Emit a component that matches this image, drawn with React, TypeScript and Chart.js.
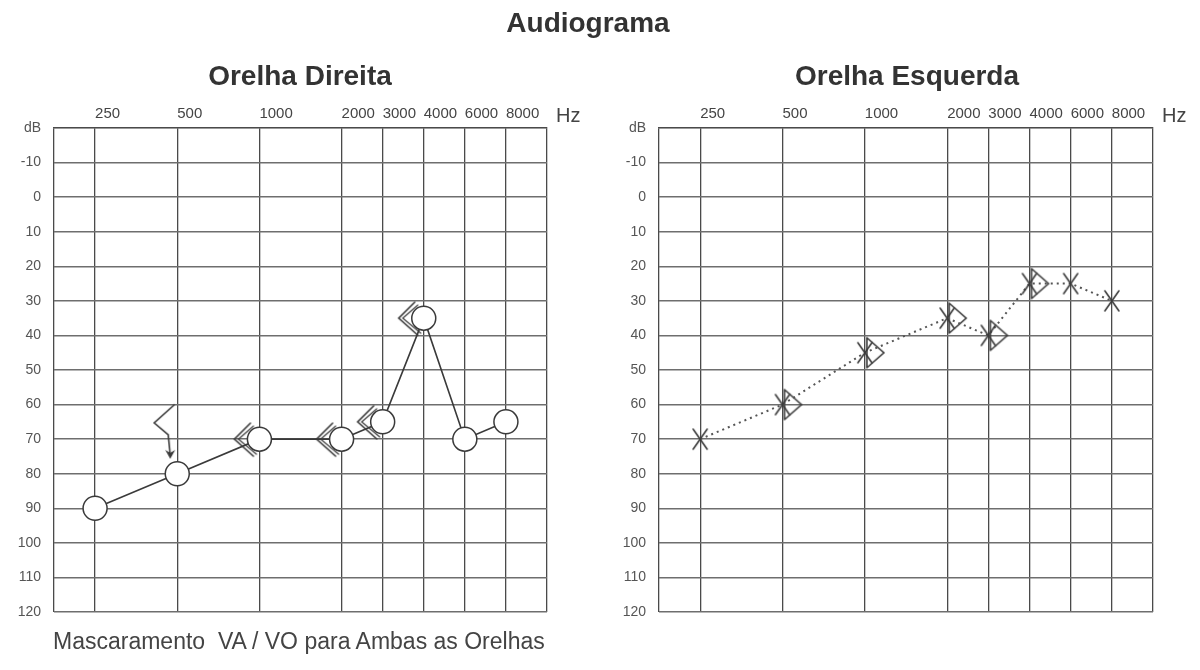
import React, { useEffect, useRef } from 'react';
import { Chart, registerables } from 'chart.js';

Chart.register(...registerables);

// ---------- data ----------
const freqLabels = ['250', '500', '1000', '2000', '3000', '4000', '6000', '8000'];
// audiogram half-octave grid position of each frequency (axis layout: 0..12)
const freqAxisPos = [1, 3, 5, 7, 8, 9, 10, 11];

// Orelha Direita (right ear)
const rightAirFreqs = ['250', '500', '1000', '2000', '3000', '4000', '6000', '8000'];
const rightAirDb = [90, 80, 70, 70, 65, 35, 70, 65];
const rightBoneFreqs = ['1000', '2000', '3000', '4000'];
const rightBoneDb = [70, 70, 65, 35];
const rightNoRespFreqs = ['500'];
const rightNoRespDb = [65];

// Orelha Esquerda (left ear)
const leftAirFreqs = ['250', '500', '1000', '2000', '3000', '4000', '6000', '8000'];
const leftAirDb = [70, 60, 45, 35, 40, 25, 25, 30];
const leftBoneFreqs = ['500', '1000', '2000', '3000', '4000'];
const leftBoneDb = [60, 45, 35, 40, 25];

const dbMin = -20;
const dbMax = 120;
const dbStep = 10;

const FONT = '"Liberation Sans", Arial, sans-serif';
const INK = '#3a3a3a';

const posOf = (f: string) => freqAxisPos[freqLabels.indexOf(f)];
const toPoints = (freqs: string[], vals: number[]) =>
  freqs.map((f, i) => ({ x: posOf(f), y: vals[i] }));

function makeSymbol(w: number, h: number, draw: (c: CanvasRenderingContext2D, cx: number, cy: number) => void) {
  const cv = document.createElement('canvas');
  cv.width = w;
  cv.height = h;
  const c = cv.getContext('2d')!;
  c.strokeStyle = INK;
  c.fillStyle = INK;
  c.lineWidth = 1.6;
  c.lineCap = 'round';
  c.lineJoin = 'miter';
  draw(c, w / 2, h / 2);
  return cv;
}

function symbols() {
  const boneRight = makeSymbol(64, 44, (c, cx, cy) => {
    c.beginPath();
    c.moveTo(cx - 9, cy - 16);
    c.lineTo(cx - 25, cy);
    c.lineTo(cx - 6, cy + 17);
    c.stroke();
    c.lineWidth = 1.2;
    c.beginPath();
    c.moveTo(cx - 6, cy - 13);
    c.lineTo(cx - 21, cy);
    c.lineTo(cx - 3, cy + 15);
    c.stroke();
  });
  const noResp = makeSymbol(64, 96, (c, cx, cy) => {
    c.beginPath();
    c.moveTo(cx - 3, cy - 17);
    c.lineTo(cx - 23, cy + 1);
    c.lineTo(cx - 9, cy + 13);
    c.lineTo(cx - 7, cy + 33);
    c.stroke();
    c.beginPath();
    c.moveTo(cx - 7, cy + 37);
    c.lineTo(cx - 12, cy + 28);
    c.lineTo(cx - 7, cy + 31);
    c.lineTo(cx - 2, cy + 28);
    c.closePath();
    c.fill();
  });
  const cross = makeSymbol(24, 28, (c, cx, cy) => {
    c.beginPath();
    c.moveTo(cx - 7, cy - 10);
    c.lineTo(cx + 7, cy + 10);
    c.moveTo(cx + 7, cy - 10);
    c.lineTo(cx - 7, cy + 10);
    c.stroke();
  });
  const boneLeft = makeSymbol(60, 40, (c, cx, cy) => {
    c.beginPath();
    c.moveTo(cx + 2, cy - 15);
    c.lineTo(cx + 2, cy + 15);
    c.moveTo(cx + 2, cy - 15);
    c.lineTo(cx + 19, cy);
    c.lineTo(cx + 2, cy + 15);
    c.stroke();
  });
  return { boneRight, noResp, cross, boneLeft };
}

const hzPlugin = {
  id: 'hzLabel',
  afterDraw(chart: any) {
    const { ctx, chartArea } = chart;
    ctx.save();
    ctx.font = `20px ${FONT}`;
    ctx.fillStyle = '#444';
    ctx.textAlign = 'left';
    ctx.textBaseline = 'alphabetic';
    ctx.fillText('Hz', chartArea.right + 9, chartArea.top - 6);
    ctx.restore();
  },
};

function Audiogram({ side }: { side: 'right' | 'left' }) {
  const ref = useRef<HTMLCanvasElement>(null);
  useEffect(() => {
    const s = symbols();
    const isRight = side === 'right';
    const datasets: any[] = isRight
      ? [
          {
            data: toPoints(rightAirFreqs, rightAirDb),
            borderColor: INK,
            borderWidth: 1.6,
            pointStyle: 'circle',
            pointRadius: 12,
            pointBackgroundColor: '#fff',
            pointBorderColor: INK,
            pointBorderWidth: 1.5,
            showLine: true,
            tension: 0,
          },
          {
            data: toPoints(rightBoneFreqs, rightBoneDb),
            showLine: false,
            pointStyle: s.boneRight,
            pointRadius: 10,
          },
          {
            data: toPoints(rightNoRespFreqs, rightNoRespDb),
            showLine: false,
            pointStyle: s.noResp,
            pointRadius: 10,
          },
        ]
      : [
          {
            data: toPoints(leftAirFreqs, leftAirDb),
            borderColor: '#555',
            borderWidth: 2,
            borderDash: [2, 4],
            pointStyle: s.cross,
            pointRadius: 10,
            showLine: true,
            tension: 0,
          },
          {
            data: toPoints(leftBoneFreqs, leftBoneDb),
            showLine: false,
            pointStyle: s.boneLeft,
            pointRadius: 10,
          },
        ];

    const chart = new Chart(ref.current!, {
      type: 'scatter',
      data: { datasets },
      options: {
        responsive: false,
        animation: false,
        events: [],
        layout: { padding: { left: 0, right: isRight ? 53 : 47, top: 0, bottom: 58 } },
        plugins: { legend: { display: false }, tooltip: { enabled: false }, title: { display: false } },
        scales: {
          x: {
            type: 'linear',
            position: 'top',
            min: 0,
            max: 12,
            afterBuildTicks: (sc: any) => {
              sc.ticks = [0, ...freqAxisPos, 12].map((v) => ({ value: v }));
            },
            afterFit: (sc: any) => {
              sc.height = 128;
            },
            ticks: {
              autoSkip: false,
              maxRotation: 0,
              minRotation: 0,
              align: 'start',
              padding: 5,
              color: '#444',
              font: { size: 15, family: FONT },
              callback: (v: any) => {
                const i = freqAxisPos.indexOf(Number(v));
                return i >= 0 ? freqLabels[i] : '';
              },
            },
            grid: { color: '#4a4a4a', lineWidth: 1.3, drawTicks: false },
            border: { display: true, color: '#4a4a4a', width: 1.3 },
          },
          y: {
            type: 'linear',
            reverse: true,
            min: dbMin,
            max: dbMax,
            afterFit: (sc: any) => {
              sc.width = isRight ? 54 : 59;
            },
            ticks: {
              stepSize: dbStep,
              padding: 13,
              color: '#555',
              font: { size: 14, family: FONT },
              callback: (v: any) => (Number(v) === dbMin ? 'dB' : String(v)),
            },
            grid: { color: '#6e6e6e', lineWidth: 1.5, drawTicks: false },
            border: { display: false },
          },
        },
      },
      plugins: [hzPlugin],
    } as any);
    return () => chart.destroy();
  }, [side]);
  return (
    <canvas
      ref={ref}
      width={600}
      height={670}
      style={{ position: 'absolute', left: side === 'right' ? 0 : 600, top: 0, width: 600, height: 670 }}
    />
  );
}

export default function App() {
  const titleStyle: React.CSSProperties = {
    position: 'absolute',
    fontFamily: FONT,
    fontWeight: 'bold',
    fontSize: 28,
    lineHeight: '28px',
    color: '#333',
    textAlign: 'center',
    whiteSpace: 'pre',
  };
  return (
    <div style={{ position: 'absolute', left: 0, top: 0, width: 1200, height: 670, background: '#fff', overflow: 'hidden' }}>
      <Audiogram side="right" />
      <Audiogram side="left" />
      <div style={{ ...titleStyle, left: 388, width: 400, top: 9 }}>Audiograma</div>
      <div style={{ ...titleStyle, left: 100, width: 400, top: 62 }}>Orelha Direita</div>
      <div style={{ ...titleStyle, left: 707, width: 400, top: 62 }}>Orelha Esquerda</div>
      <div
        style={{
          position: 'absolute',
          left: 53,
          top: 627,
          fontFamily: FONT,
          fontSize: 23,
          lineHeight: '28px',
          color: '#444',
          whiteSpace: 'pre',
        }}
      >
        {'Mascaramento  VA / VO para Ambas as Orelhas'}
      </div>
    </div>
  );
}
